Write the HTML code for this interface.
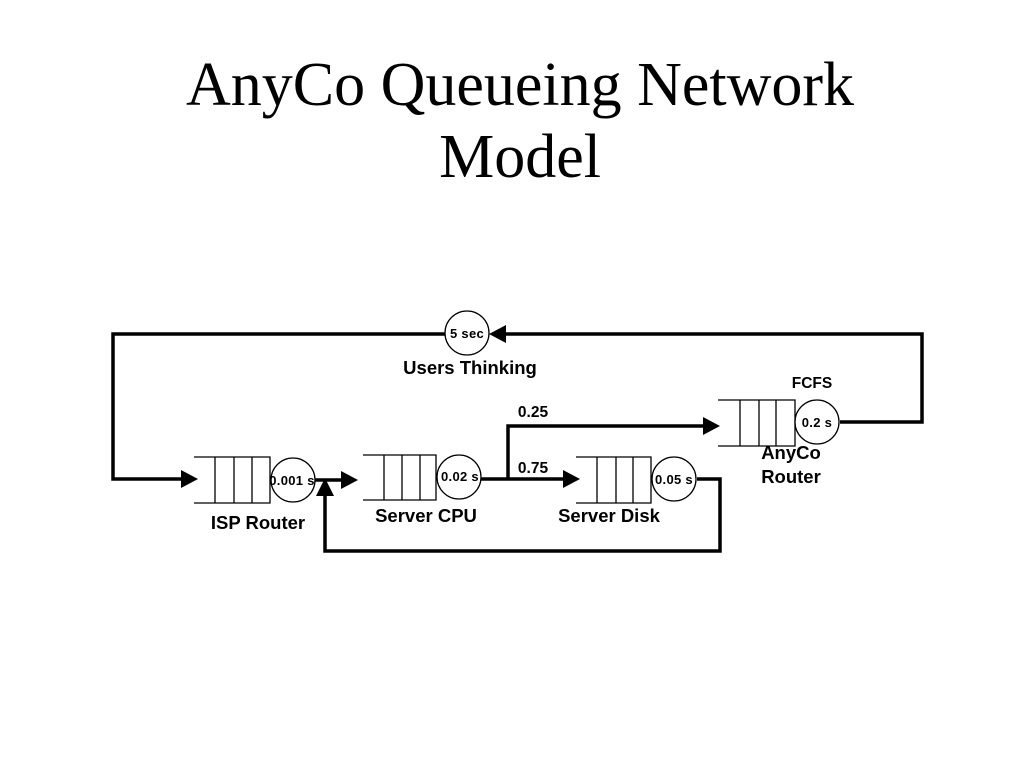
<!DOCTYPE html>
<html><head><meta charset="utf-8"><style>
html,body{margin:0;padding:0;background:#fff;width:1024px;height:768px;overflow:hidden}
h1{position:absolute;top:49px;left:8px;width:1024px;margin:0;text-align:center;font:62px/72px "Liberation Serif",serif;font-weight:normal;color:#000}
svg{position:absolute;left:0;top:0}
</style></head><body>
<h1>AnyCo Queueing Network<br>Model</h1>
<svg width="1024" height="768" viewBox="0 0 1024 768">
<g fill="none" stroke="#000" stroke-width="3.5">
<polyline points="445,334 113,334 113,479 182,479"/>
<polyline points="840,422 922,422 922,334 505,334"/>
<line x1="315" y1="480" x2="343" y2="480"/>
<polyline points="697,479 720,479 720,551 325,551 325,494"/>
<line x1="481" y1="479" x2="564" y2="479"/>
<polyline points="508,479 508,426 704,426"/>
</g>
<g fill="#000">
<polygon points="198,479 181,470 181,488"/>
<polygon points="489,334 506,325 506,343"/>
<polygon points="358,480 341,471 341,489"/>
<polygon points="325,478 316,496 334,496"/>
<polygon points="580,479 563,470 563,488"/>
<polygon points="720,426 703,417 703,435"/>
</g>
<g fill="none" stroke="#000" stroke-width="1.3">
<path d="M194,457 H270 V503 H194 M215,457V503 M234,457V503 M252,457V503"/>
<path d="M363,455 H436 V500 H363 M384,455V500 M402,455V500 M420,455V500"/>
<path d="M576,457 H651 V503 H576 M597,457V503 M616,457V503 M633,457V503"/>
<path d="M718,400 H795 V446 H718 M740,400V446 M759,400V446 M776,400V446"/>
</g>
<g fill="#fff" stroke="#000" stroke-width="1.3">
<circle cx="293" cy="480" r="22"/>
<circle cx="459" cy="477" r="22"/>
<circle cx="674" cy="479" r="22"/>
<circle cx="817" cy="422" r="22"/>
<circle cx="467" cy="333" r="22"/>
</g>
<g font-family="Liberation Sans,sans-serif" font-weight="bold" text-anchor="middle" fill="#000">
<text x="292" y="485" font-size="13" letter-spacing="0.3">0.001 s</text>
<text x="460" y="481" font-size="13" letter-spacing="0.3">0.02 s</text>
<text x="674" y="484" font-size="13" letter-spacing="0.3">0.05 s</text>
<text x="817" y="427" font-size="13" letter-spacing="0.3">0.2 s</text>
<text x="467" y="338" font-size="13" letter-spacing="0.3">5 sec</text>
<text x="470" y="374" font-size="18.5">Users Thinking</text>
<text x="533" y="417" font-size="15.5">0.25</text>
<text x="533" y="473" font-size="15.5">0.75</text>
<text x="812" y="388" font-size="15.5">FCFS</text>
<text x="791" y="459" font-size="18.5">AnyCo</text>
<text x="791" y="483" font-size="18.5">Router</text>
<text x="258" y="529" font-size="18.5">ISP Router</text>
<text x="426" y="522" font-size="18.5">Server CPU</text>
<text x="609" y="522" font-size="18.5">Server Disk</text>
</g>
</svg>
</body></html>
